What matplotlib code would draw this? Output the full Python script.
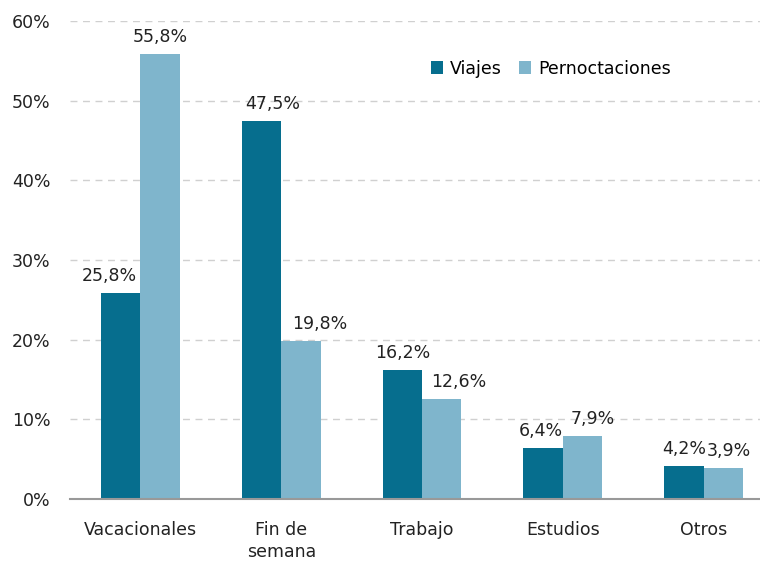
import matplotlib.pyplot as plt
import numpy as np

categories = ['Vacacionales', 'Fin de\nsemana', 'Trabajo', 'Estudios', 'Otros']
viajes = [25.8, 47.5, 16.2, 6.4, 4.2]
pernoctaciones = [55.8, 19.8, 12.6, 7.9, 3.9]

c_viajes = '#066e8e'
c_pern = '#7fb5cc'
fs = 12.5

# horizontal nudges (pixels) so neighbouring labels don't collide
nudge_viajes = [-11, 11, 0, -2, 0]
nudge_pern = [0, 19, 17, 10, 5]

fig = plt.figure(figsize=(7.6, 5.63), dpi=100)
ax = fig.add_axes([70 / 760, 1 - 499 / 563, 690 / 760, 478 / 563])

x = np.arange(len(categories))
w = 0.28
b1 = ax.bar(x - w / 2, viajes, w, color=c_viajes, label='Viajes')
b2 = ax.bar(x + w / 2, pernoctaciones, w, color=c_pern, label='Pernoctaciones')

for bars, vals, nudges in [(b1, viajes, nudge_viajes), (b2, pernoctaciones, nudge_pern)]:
    for bar, v, dx in zip(bars, vals, nudges):
        ax.annotate(f'{v:.1f}%'.replace('.', ','),
                    (bar.get_x() + bar.get_width() / 2, v),
                    xytext=(dx, 8), textcoords='offset pixels',
                    ha='center', va='bottom', fontsize=fs, color='#222222')

ax.set_ylim(0, 60)
ax.set_xlim(-0.5, 4.4)
ax.set_yticks(range(0, 61, 10))
ax.set_yticklabels([f'{t}%' for t in range(0, 61, 10)])
ax.set_xticks(x)
ax.set_xticklabels(categories, linespacing=1.3)
ax.tick_params(axis='both', length=0, labelsize=fs, colors='#222222')
ax.tick_params(axis='x', pad=16)
ax.tick_params(axis='y', pad=14)

ax.yaxis.grid(True, linestyle=(0, (5, 4)), color='#d0d0d0', linewidth=1)
ax.set_axisbelow(True)
for s in ['top', 'right', 'left']:
    ax.spines[s].set_visible(False)
ax.spines['bottom'].set_color('#999999')
ax.spines['bottom'].set_linewidth(1.5)

ax.legend(loc='upper left', bbox_to_anchor=(0.5, 0.952), ncol=2, frameon=False,
          fontsize=fs, handlelength=0.7, handleheight=0.7, handletextpad=0.4,
          columnspacing=1.0)

fig.savefig('out.png', dpi=100)
